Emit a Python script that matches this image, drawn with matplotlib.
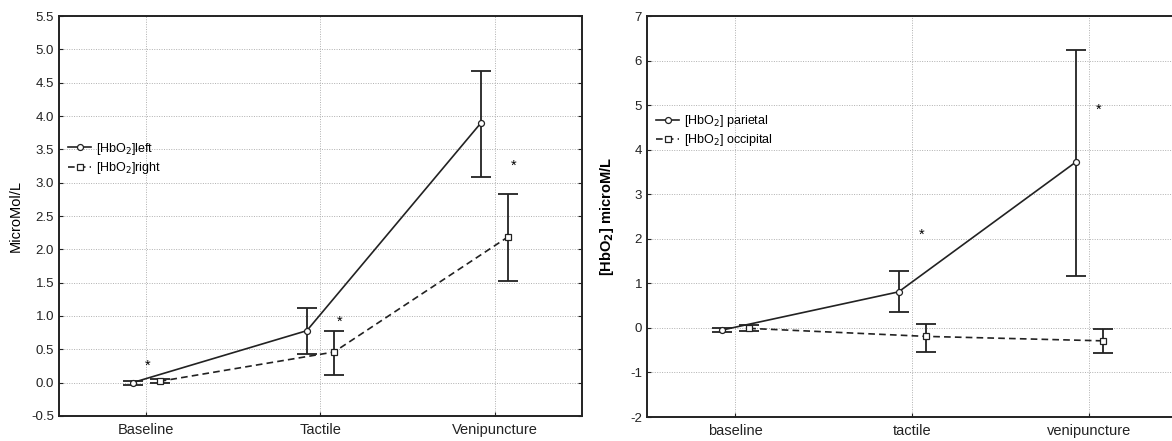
import matplotlib
matplotlib.use('Agg')
import matplotlib.pyplot as plt
import numpy as np

plt.rcParams['font.family'] = ['Liberation Sans', 'DejaVu Sans']
plt.rcParams['axes.unicode_minus'] = False

# Left panel: hemispheres
cats_left = ['Baseline', 'Tactile', 'Venipuncture']
left_mean = [0.00, 0.78, 3.90]
left_lo = [-0.03, 0.43, 3.09]
left_hi = [0.03, 1.12, 4.68]
right_mean = [0.02, 0.46, 2.19]
right_lo = [-0.01, 0.11, 1.53]
right_hi = [0.05, 0.78, 2.83]
stars_left_y = [0.25, 0.91, 3.25]

# Right panel: regions
cats_right = ['baseline', 'tactile', 'venipuncture']
par_mean = [-0.05, 0.81, 3.72]
par_lo = [-0.10, 0.36, 1.17]
par_hi = [0.00, 1.28, 6.25]
occ_mean = [-0.01, -0.19, -0.29]
occ_lo = [-0.08, -0.54, -0.57]
occ_hi = [0.06, 0.09, -0.02]
stars_right_x = [1.05, 2.05]
stars_right_y = [2.1, 4.9]

fig = plt.figure(figsize=(11.72, 4.41), dpi=100)
ax1 = fig.add_axes([0.0503, 0.0567, 0.4462, 0.907])
ax2 = fig.add_axes([0.552, 0.0544, 0.453, 0.909])

off = 0.078


def draw(ax, cats, m1, lo1, hi1, m2, lo2, hi2, labels):
    x = np.arange(len(cats))
    for xs, m, lo, hi, mk, ls, lab in [(x - off, m1, lo1, hi1, 'o', '-', labels[0]),
                                       (x + off, m2, lo2, hi2, 's', (0, (4, 2.5)), labels[1])]:
        m = np.array(m)
        yerr = [m - np.array(lo), np.array(hi) - m]
        ax.errorbar(xs, m, yerr=yerr, fmt='none', ecolor='#222222',
                    elinewidth=1.3, capsize=7, capthick=1.3, zorder=3)
        ax.plot(xs, m, color='#222222', linestyle=ls, linewidth=1.2,
                marker=mk, markersize=4.3, markerfacecolor='white',
                markeredgecolor='#222222', markeredgewidth=0.9, label=lab, zorder=4)
    ax.set_xlim(-0.5, len(cats) - 0.5)
    ax.set_xticks(x)
    ax.set_xticklabels(cats, fontsize=10.5)
    ax.grid(True, linestyle=(0, (1, 1.5)), color='#b0b0b0', linewidth=0.7)
    ax.set_axisbelow(True)
    for s in ax.spines.values():
        s.set_linewidth(1.4)
        s.set_color('#222222')
    ax.tick_params(direction='in', length=3, top=False, right=True,
                   labelsize=9.5, colors='#222222')
    ax.tick_params(axis='x', labelsize=10.5, pad=5)


draw(ax1, cats_left, left_mean, left_lo, left_hi, right_mean, right_lo, right_hi,
     ['[HbO$_2$]left', '[HbO$_2$]right'])
ax1.set_ylim(-0.5, 5.5)
ax1.set_yticks(np.arange(-0.5, 5.51, 0.5))
ax1.set_yticklabels(['%.1f' % v for v in np.arange(-0.5, 5.51, 0.5)])
ax1.set_ylabel('MicroMol/L', fontsize=10.5, labelpad=6)
for i, yv in enumerate(stars_left_y):
    ax1.text(i + 0.01 if i == 0 else i + 0.11, yv, '*', ha='center', va='center', fontsize=10.5)
ax1.legend(loc='upper left', bbox_to_anchor=(0.0, 0.71), frameon=False,
           fontsize=9, handlelength=1.9, handletextpad=0.4, labelspacing=0.25,
           borderaxespad=0.3)

draw(ax2, cats_right, par_mean, par_lo, par_hi, occ_mean, occ_lo, occ_hi,
     ['[HbO$_2$] parietal', '[HbO$_2$] occipital'])
ax2.set_ylim(-2, 7)
ax2.set_yticks(np.arange(-2, 8, 1))
ax2.set_ylabel('[HbO$_\\mathbf{2}$] microM/L', fontsize=10.5, fontweight='bold', labelpad=10)
for xv, yv in zip(stars_right_x, stars_right_y):
    ax2.text(xv, yv, '*', ha='center', va='center', fontsize=10.5)
ax2.legend(loc='upper left', bbox_to_anchor=(0.0, 0.78), frameon=False,
           fontsize=9, handlelength=1.9, handletextpad=0.4, labelspacing=0.25,
           borderaxespad=0.3)

fig.savefig('out.png', dpi=100)
